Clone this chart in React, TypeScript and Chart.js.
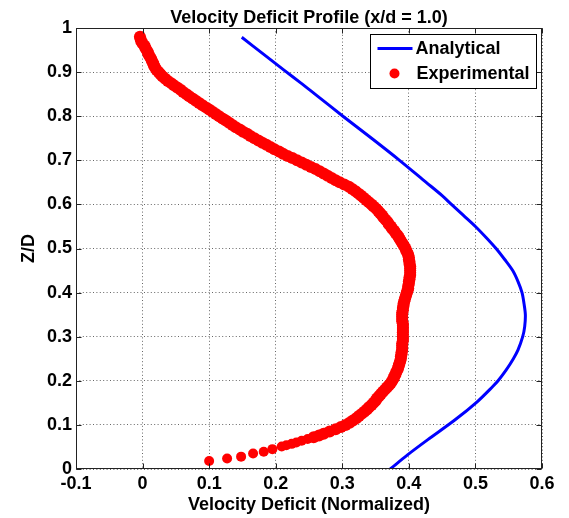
import React, { useEffect, useRef } from "react";
import { Chart, registerables } from "chart.js";

Chart.register(...registerables);

const chartTitle = "Velocity Deficit Profile (x/d = 1.0)";
const xLabel = "Velocity Deficit (Normalized)";
const yLabel = "Z/D";

const xTicks = [-0.1, 0, 0.1, 0.2, 0.3, 0.4, 0.5, 0.6];
const yTicks = [0, 0.1, 0.2, 0.3, 0.4, 0.5, 0.6, 0.7, 0.8, 0.9, 1];

// Experimental (red markers): height Z/D
const expZ = [
  0.018, 0.024, 0.028, 0.035, 0.039, 0.045, 0.051, 0.054, 0.057, 0.060,
  0.064, 0.068, 0.072, 0.076, 0.080, 0.085, 0.090, 0.095, 0.100, 0.105,
  0.110, 0.115, 0.120, 0.125, 0.130, 0.135, 0.140, 0.145, 0.150, 0.155,
  0.160, 0.165, 0.170, 0.175, 0.180, 0.185, 0.190, 0.195, 0.200, 0.205,
  0.210, 0.215, 0.220, 0.225, 0.230, 0.235, 0.240, 0.245, 0.250, 0.255,
  0.260, 0.265, 0.270, 0.275, 0.280, 0.285, 0.290, 0.295, 0.300, 0.305,
  0.310, 0.315, 0.320, 0.325, 0.330, 0.335, 0.340, 0.345, 0.350, 0.355,
  0.360, 0.365, 0.370, 0.375, 0.380, 0.385, 0.390, 0.395, 0.400, 0.405,
  0.410, 0.415, 0.420, 0.425, 0.430, 0.435, 0.440, 0.445, 0.450, 0.455,
  0.460, 0.465, 0.470, 0.475, 0.480, 0.485, 0.490, 0.495, 0.500, 0.505,
  0.510, 0.515, 0.520, 0.525, 0.530, 0.535, 0.540, 0.545, 0.550, 0.555,
  0.560, 0.565, 0.570, 0.575, 0.580, 0.585, 0.590, 0.595, 0.600, 0.605,
  0.610, 0.615, 0.620, 0.625, 0.630, 0.635, 0.640, 0.645, 0.650, 0.655,
  0.660, 0.665, 0.670, 0.675, 0.680, 0.685, 0.690, 0.695, 0.700, 0.705,
  0.710, 0.715, 0.720, 0.725, 0.730, 0.735, 0.740, 0.745, 0.750, 0.755,
  0.760, 0.765, 0.770, 0.775, 0.780, 0.785, 0.790, 0.795, 0.800, 0.805,
  0.810, 0.815, 0.820, 0.825, 0.830, 0.835, 0.840, 0.845, 0.850, 0.855,
  0.860, 0.865, 0.870, 0.875, 0.880, 0.885, 0.890, 0.895, 0.900, 0.905,
  0.910, 0.915, 0.920, 0.925, 0.930, 0.935, 0.940, 0.945, 0.950, 0.955,
  0.960, 0.965, 0.970, 0.975, 0.980,
];
// Experimental: normalized velocity deficit
const expDeficit = [
  0.100, 0.127, 0.148, 0.166, 0.182, 0.195, 0.209, 0.216, 0.224, 0.231,
  0.239, 0.248, 0.257, 0.265, 0.272, 0.281, 0.290, 0.298, 0.305, 0.311,
  0.316, 0.321, 0.325, 0.329, 0.333, 0.337, 0.340, 0.344, 0.347, 0.350,
  0.352, 0.355, 0.358, 0.361, 0.364, 0.367, 0.370, 0.373, 0.375, 0.377,
  0.378, 0.380, 0.381, 0.383, 0.384, 0.385, 0.386, 0.387, 0.388, 0.388,
  0.389, 0.389, 0.390, 0.390, 0.390, 0.390, 0.391, 0.391, 0.391, 0.391,
  0.391, 0.391, 0.391, 0.391, 0.391, 0.390, 0.390, 0.390, 0.390, 0.390,
  0.391, 0.391, 0.392, 0.392, 0.393, 0.394, 0.395, 0.396, 0.397, 0.398,
  0.399, 0.399, 0.400, 0.400, 0.401, 0.401, 0.402, 0.402, 0.402, 0.402,
  0.402, 0.401, 0.401, 0.400, 0.400, 0.399, 0.398, 0.396, 0.395, 0.393,
  0.391, 0.389, 0.387, 0.385, 0.383, 0.380, 0.378, 0.375, 0.373, 0.370,
  0.368, 0.365, 0.362, 0.360, 0.357, 0.354, 0.351, 0.347, 0.344, 0.340,
  0.336, 0.332, 0.328, 0.324, 0.320, 0.315, 0.310, 0.303, 0.296, 0.290,
  0.284, 0.278, 0.272, 0.266, 0.260, 0.253, 0.246, 0.239, 0.232, 0.225,
  0.218, 0.211, 0.205, 0.198, 0.192, 0.186, 0.180, 0.174, 0.168, 0.162,
  0.157, 0.151, 0.146, 0.140, 0.135, 0.130, 0.125, 0.120, 0.115, 0.110,
  0.105, 0.100, 0.095, 0.090, 0.085, 0.080, 0.075, 0.070, 0.066, 0.061,
  0.057, 0.052, 0.047, 0.043, 0.038, 0.034, 0.030, 0.027, 0.024, 0.021,
  0.019, 0.017, 0.016, 0.014, 0.013, 0.011, 0.009, 0.008, 0.006, 0.004,
  0.003, 0.000, -0.002, -0.003, -0.004,
];

// Analytical (blue line)
const anaZ = [
  0.0, 0.032, 0.066, 0.111, 0.153, 0.187, 0.20, 0.224, 0.25, 0.27,
  0.30, 0.323, 0.35, 0.375, 0.40, 0.425, 0.45, 0.475, 0.50, 0.525,
  0.55, 0.575, 0.60, 0.62, 0.65, 0.70, 0.75, 0.80, 0.85, 0.875,
  0.905, 0.939, 0.979,
];
const anaDeficit = [
  0.372, 0.398, 0.428, 0.469, 0.503, 0.526, 0.534, 0.546, 0.557, 0.564,
  0.571, 0.574, 0.575, 0.573, 0.570, 0.564, 0.556, 0.544, 0.531, 0.516,
  0.500, 0.482, 0.464, 0.450, 0.426, 0.386, 0.344, 0.301, 0.259, 0.238,
  0.212, 0.183, 0.149,
];

const FONT = '"Liberation Sans", Arial, Helvetica, sans-serif';

const decorPlugin = {
  id: "decor",
  afterDraw(chart: any) {
    const { ctx, chartArea, scales } = chart;
    const { left, right, top, bottom } = chartArea;
    const x = scales.x;
    const y = scales.y;
    ctx.save();
    ctx.strokeStyle = "#222";
    ctx.lineWidth = 1;
    const l = Math.round(left) + 0.5;
    const r = Math.round(right) - 0.5;
    const t = Math.round(top) + 0.5;
    const b = Math.round(bottom) - 0.5;
    ctx.strokeRect(l, t, r - l, b - t);
    ctx.beginPath();
    for (const v of xTicks) {
      const px = Math.round(x.getPixelForValue(v)) + 0.5;
      ctx.moveTo(px, b);
      ctx.lineTo(px, b - 5);
      ctx.moveTo(px, t);
      ctx.lineTo(px, t + 5);
    }
    for (const v of yTicks) {
      const py = Math.round(y.getPixelForValue(v)) + 0.5;
      ctx.moveTo(l, py);
      ctx.lineTo(l + 5, py);
      ctx.moveTo(r, py);
      ctx.lineTo(r - 5, py);
    }
    ctx.stroke();

    ctx.fillStyle = "#000";
    ctx.font = `bold 18px ${FONT}`;
    ctx.textAlign = "center";
    ctx.textBaseline = "middle";
    ctx.fillText(chartTitle, (left + right) / 2, 18);

    const lw = 166;
    const lh = 54;
    const lx = Math.round(right) - 6 - lw + 0.5;
    const ly = Math.round(top) + 6 + 0.5;
    ctx.fillStyle = "#fff";
    ctx.fillRect(lx, ly, lw, lh);
    ctx.strokeStyle = "#000";
    ctx.lineWidth = 1;
    ctx.strokeRect(lx, ly, lw, lh);

    const ds = chart.data.datasets;
    ctx.strokeStyle = ds[0].borderColor;
    ctx.lineWidth = 3;
    ctx.beginPath();
    ctx.moveTo(lx + 7, ly + 14);
    ctx.lineTo(lx + 42, ly + 14);
    ctx.stroke();
    ctx.fillStyle = "#000";
    ctx.textAlign = "left";
    ctx.fillText(ds[0].label, lx + 45, ly + 15);
    ctx.fillStyle = ds[1].backgroundColor;
    ctx.beginPath();
    ctx.arc(lx + 24, ly + 39, 5, 0, Math.PI * 2);
    ctx.fill();
    ctx.fillStyle = "#000";
    ctx.fillText(ds[1].label, lx + 46, ly + 40);
    ctx.restore();
  },
};

export default function App() {
  const ref = useRef<HTMLCanvasElement | null>(null);

  useEffect(() => {
    if (!ref.current) return;
    const tickFont = { family: FONT, size: 18, weight: "bold" as const };
    const chart = new Chart(ref.current, {
      type: "scatter",
      data: {
        datasets: [
          {
            label: "Analytical",
            data: anaZ.map((z, i) => ({ x: anaDeficit[i], y: z })),
            showLine: true,
            borderColor: "#0000ff",
            backgroundColor: "#0000ff",
            borderWidth: 3,
            pointRadius: 0,
            tension: 0.3,
          },
          {
            label: "Experimental",
            data: expZ.map((z, i) => ({ x: expDeficit[i], y: z })),
            showLine: false,
            backgroundColor: "#ff0000",
            borderColor: "#ff0000",
            borderWidth: 0,
            pointRadius: (c: any) => (c.raw && c.raw.y < 0.07 ? 5 : 6),
          },
        ],
      },
      options: {
        responsive: false,
        animation: false,
        layout: { padding: { top: 28, right: 27, left: 0, bottom: 0 } },
        plugins: {
          legend: { display: false },
          title: { display: false },
          tooltip: { enabled: false },
        },
        scales: {
          x: {
            type: "linear",
            min: -0.1,
            max: 0.6,
            afterBuildTicks: (s: any) => {
              s.ticks = xTicks.map((v) => ({ value: v }));
            },
            afterFit: (s: any) => {
              s.height = 49;
            },
            ticks: {
              font: tickFont,
              color: "#000",
              padding: 4,
              maxRotation: 0,
              autoSkip: false,
              callback: (v: any) => String(Math.round(Number(v) * 10) / 10),
            },
            grid: { color: "rgba(0,0,0,0.6)", lineWidth: 1, drawTicks: false },
            border: { display: false, dash: [1, 2.4] },
            title: {
              display: true,
              text: xLabel,
              font: tickFont,
              color: "#000",
              padding: { top: 0, bottom: 2 },
            },
          },
          y: {
            type: "linear",
            min: 0,
            max: 1,
            afterBuildTicks: (s: any) => {
              s.ticks = yTicks.map((v) => ({ value: v }));
            },
            afterFit: (s: any) => {
              s.width = 76;
            },
            ticks: {
              font: tickFont,
              color: "#000",
              padding: 4,
              autoSkip: false,
              callback: (v: any) => String(Math.round(Number(v) * 10) / 10),
            },
            grid: { color: "rgba(0,0,0,0.6)", lineWidth: 1, drawTicks: false },
            border: { display: false, dash: [1, 2.4] },
            title: {
              display: true,
              text: yLabel,
              font: tickFont,
              color: "#000",
              padding: { top: 18, bottom: 0 },
            },
          },
        },
      },
      plugins: [decorPlugin],
    });
    return () => chart.destroy();
  }, []);

  return (
    <div style={{ position: "absolute", left: 0, top: 0, width: 569, height: 518, background: "#fff" }}>
      <canvas ref={ref} width={569} height={518} style={{ width: 569, height: 518, display: "block" }} />
    </div>
  );
}
